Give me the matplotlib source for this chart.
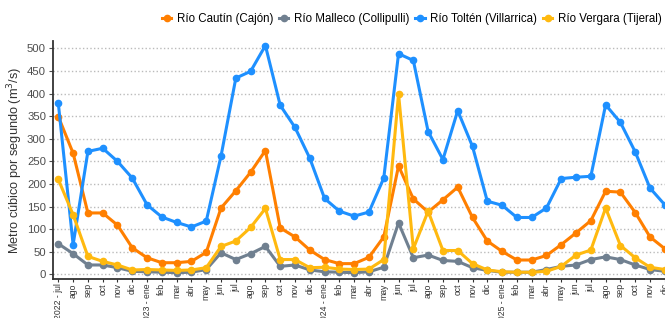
import matplotlib
matplotlib.use("Agg")
import matplotlib.pyplot as plt

plt.rcParams['font.family'] = ['Liberation Sans', 'DejaVu Sans']

# meses (jul 2022 - dic 2025)
meses = ['2022 - jul', 'ago', 'sep', 'oct', 'nov', 'dic',
         '2023 - ene', 'feb', 'mar', 'abr', 'may', 'jun', 'jul', 'ago', 'sep', 'oct', 'nov', 'dic',
         '2024 - ene', 'feb', 'mar', 'abr', 'may', 'jun', 'jul', 'ago', 'sep', 'oct', 'nov', 'dic',
         '2025 - ene', 'feb', 'mar', 'abr', 'may', 'jun', 'jul', 'ago', 'sep', 'oct', 'nov', 'dic']

cautin = [349, 268, 136, 136, 109, 59, 37, 26, 26, 29, 49, 147, 185, 226, 274, 103, 83, 54,
          33, 24, 24, 38, 83, 240, 167, 138, 165, 193, 126, 74, 51, 32, 32, 42, 66, 92,
          119, 184, 182, 137, 83, 57]
malleco = [68, 46, 21, 21, 15, 7, 6, 5, 4, 5, 11, 48, 33, 46, 62, 18, 21, 10,
           6, 5, 4, 6, 16, 114, 37, 43, 31, 29, 15, 9, 5, 5, 5, 11, 18, 21,
           33, 39, 33, 21, 11, 7]
tolten = [378, 66, 272, 279, 250, 213, 154, 127, 115, 105, 118, 262, 434, 449, 506, 374, 325, 257,
          168, 140, 129, 138, 213, 488, 473, 316, 254, 362, 283, 162, 153, 126, 126, 147, 212, 215,
          217, 375, 336, 271, 191, 154]
vergara = [210, 132, 40, 29, 21, 10, 11, 10, 9, 10, 15, 62, 74, 104, 146, 33, 33, 15,
           16, 12, 11, 12, 33, 399, 57, 140, 53, 53, 24, 10, 6, 5, 5, 7, 18, 43,
           54, 147, 64, 37, 16, 11]

series = [('Río Cautín (Cajón)', cautin, '#FF7F00'),
          ('Río Malleco (Collipulli)', malleco, '#708090'),
          ('Río Toltén (Villarrica)', tolten, '#1E90FF'),
          ('Río Vergara (Tijeral)', vergara, '#FFB90F')]

fig = plt.figure(figsize=(6.65, 3.18), dpi=100)
ax = fig.add_axes([0.0797, 0.1226, 0.928, 0.747])

x = list(range(len(meses)))
for nombre, valores, color in series:
    ax.plot(x, valores, '-o', color=color, lw=2.2, ms=4.5, label=nombre)

ax.set_xlim(-0.36, len(meses) - 1 + 0.36)
ax.set_ylim(-10, 515)
ax.set_yticks(range(0, 501, 50))
ax.set_xticks(x)
ax.set_xticklabels(meses, rotation=90, fontsize=6.2, color='#333333')
ax.tick_params(axis='y', labelsize=8.2, colors='#4d4d4d', length=3, pad=2)
ax.tick_params(axis='x', length=2, color='#333333', pad=1)
ax.grid(axis='y', linestyle=':', color='#bbbbbb', lw=1)
ax.set_axisbelow(True)
for lado in ['top', 'right']:
    ax.spines[lado].set_visible(False)
for lado in ['left', 'bottom']:
    ax.spines[lado].set_color('#333333')
    ax.spines[lado].set_linewidth(1.3)

ax.set_ylabel('Metro cúbico por segundo (m$^3$/s)', fontsize=9.2, color='#333333')
ax.yaxis.set_label_coords(-0.045, 0.5)

fig.legend(loc='center right', bbox_to_anchor=(1.002, 0.94), ncol=4, frameon=False,
           fontsize=8.3, handlelength=0.8, handletextpad=0.5, columnspacing=0.5,
           borderaxespad=0)

fig.savefig('out.png', dpi=100)
